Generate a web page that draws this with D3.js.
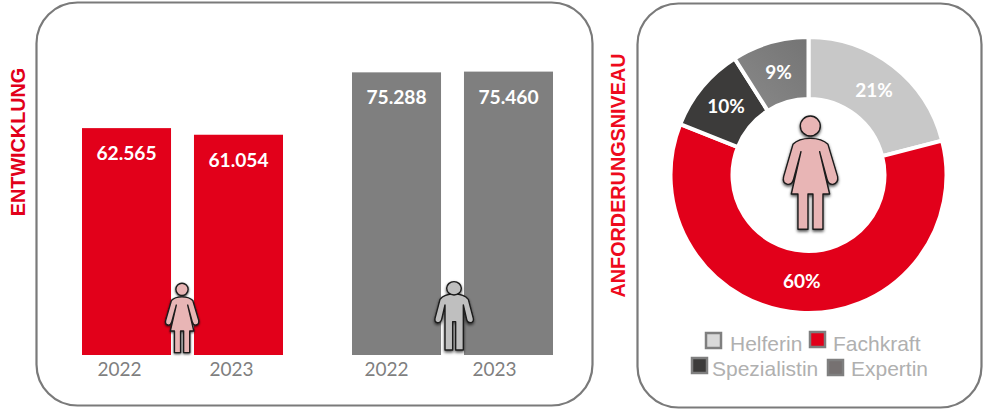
<!DOCTYPE html>
<html>
<head>
<meta charset="utf-8">
<script src="https://cdn.jsdelivr.net/npm/d3@7"></script>
<style>
html, body { margin: 0; padding: 0; background: #fff; }
svg { display: block; }
</style>
</head>
<body>
<div id="chart"></div>
<script>
var years = ['2022', '2023'];
var women_values = [62565, 61054];
var men_values = [75288, 75460];
var levels = ['Helferin', 'Fachkraft', 'Spezialistin', 'Expertin'];
var level_values = [21, 60, 10, 9];

var RED = '#e2001a';
var GREY = '#7f7f7f';
var level_colors = ['#c8c8c8', RED, '#3c3b3a', 'url(#expert_grad)'];
var legend_colors = ['#d9d9d9', RED, '#3c3b3a', '#767171'];

var WOMAN = 'M0 100C25 100 40 105 53 118L82 215Q85 235 68 238Q55 240 50 222L28 140L58 267L38 267L38 373L8 373L8 267L-7 267L-7 373L-37 373L-37 267L-57 267L-28 140L-50 222Q-55 240 -68 238Q-85 235 -80 215L-52 118C-40 105 -25 100 0 100Z';
var MAN = 'M0 72C18 72 33 75 43 88L58 145Q60 157 50 158Q40 158 38 148L28 105L28 240L5 240L5 155L-4 155L-4 240L-27 240L-27 105L-37 148Q-40 158 -50 158Q-59 157 -57 145L-42 88C-32 75 -17 72 0 72Z';

var svg = d3.select('#chart').append('svg')
	.attr('width', 984)
	.attr('height', 410);

var defs = svg.append('defs');
var shadow = defs.append('filter').attr('id', 'shadow')
	.attr('x', '-40%').attr('y', '-30%').attr('width', '180%').attr('height', '170%');
shadow.append('feDropShadow')
	.attr('dx', 0).attr('dy', 5).attr('stdDeviation', 4)
	.attr('flood-color', '#000').attr('flood-opacity', 0.7);

var grad = defs.append('linearGradient').attr('id', 'expert_grad')
	.attr('x1', 0).attr('x2', 1).attr('y1', 1).attr('y2', 0);
grad.append('stop').attr('offset', '0%').attr('stop-color', '#8a8a8a');
grad.append('stop').attr('offset', '100%').attr('stop-color', '#747474');

function panel(x, y, w, h)
{
	svg.append('rect')
		.attr('x', x).attr('y', y)
		.attr('width', w).attr('height', h)
		.attr('rx', 41).attr('ry', 41)
		.attr('fill', '#fff')
		.attr('stroke', '#7a7a7a')
		.attr('stroke-width', 2.2);
}

function side_title(text, x, y, color)
{
	svg.append('text')
		.attr('transform', 'translate(' + x + ',' + y + ') rotate(-90)')
		.attr('text-anchor', 'middle')
		.attr('font-family', '"Liberation Sans", Arial, sans-serif')
		.attr('font-weight', 'bold')
		.attr('font-size', 19.8)
		.attr('fill', color)
		.text(text);
}

// head is drawn apart from the body so both get the same outline
function person(path_d, head, cx, top, scale, fill)
{
	var g = svg.append('g')
		.attr('filter', 'url(#shadow)')
		.attr('transform', 'translate(' + cx + ',' + top + ') scale(' + scale + ')');
	g.append('path')
		.attr('d', path_d)
		.attr('fill', fill)
		.attr('stroke', '#1a1a1a')
		.attr('stroke-width', 1.4 / scale)
		.attr('stroke-linejoin', 'round');
	g.append('ellipse')
		.attr('cx', 0).attr('cy', head.cy)
		.attr('rx', head.rx).attr('ry', head.ry)
		.attr('fill', fill)
		.attr('stroke', '#1a1a1a')
		.attr('stroke-width', 1.4 / scale);
}

panel(36.5, 2.5, 556, 403);
panel(637.5, 3.5, 344, 404);

side_title('ENTWICKLUNG', 24.5, 142, RED);
side_title('ANFORDERUNGSNIVEAU', 624.5, 175.5, '#ee0a1c');

// the bars do not start at zero in the original
var y = d3.scaleLinear()
	.domain([10800, 75460])
	.range([355, 71.6]);

function bar_group(values, x0, color, tick_shift)
{
	var x = d3.scaleBand()
		.domain(years)
		.range([x0, x0 + 201])
		.paddingInner(0.205);

	var g = svg.append('g');
	g.selectAll('rect')
		.data(values)
		.enter()
		.append('rect')
		.attr('x', function(d, i) { return x(years[i]); })
		.attr('y', function(d) { return y(d); })
		.attr('width', x.bandwidth())
		.attr('height', function(d) { return y.range()[0] - y(d); })
		.attr('fill', color);

	g.selectAll('text.value')
		.data(values)
		.enter()
		.append('text')
		.attr('class', 'value')
		.attr('x', function(d, i) { return x(years[i]) + x.bandwidth() / 2; })
		.attr('y', function(d) { return y(d) + 32; })
		.attr('text-anchor', 'middle')
		.attr('font-family', 'Lato, sans-serif')
		.attr('font-weight', 'bold')
		.attr('font-size', 19.2)
		.attr('fill', '#fff')
		.text(function(d) { return d3.format(',')(d).replace(',', '.'); });

	var axis = svg.append('g')
		.attr('transform', 'translate(0,355)')
		.call(d3.axisBottom(x).tickSize(0).tickPadding(8));
	axis.select('.domain').remove();
	axis.selectAll('text')
		.attr('dx', function(d, i) { return tick_shift[i]; })
		.attr('font-family', 'Lato, sans-serif')
		.attr('font-size', 19)
		.attr('fill', '#7f7f7f');
}

bar_group(women_values, 82, RED, [-7, -7]);
bar_group(men_values, 352, GREY, [-10, -14]);

person(WOMAN, {cy: 63, rx: 30, ry: 30}, 182, 276.5, 0.204, '#e8b5b5');
person(MAN, {cy: 55, rx: 22, ry: 20}, 454, 270, 0.3333, '#bfbfbf');

// donut
var pie = d3.pie().sort(null).value(function(d) { return d; });
var arc = d3.arc().innerRadius(76).outerRadius(138);
var label_arc = d3.arc().innerRadius(107).outerRadius(107);

var donut = svg.append('g').attr('transform', 'translate(808.5,175)');
donut.selectAll('path')
	.data(pie(level_values))
	.enter()
	.append('path')
	.attr('d', arc)
	.attr('fill', function(d, i) { return level_colors[i]; })
	.attr('stroke', '#fff')
	.attr('stroke-width', 4);

donut.selectAll('text')
	.data(pie(level_values))
	.enter()
	.append('text')
	.attr('transform', function(d) { return 'translate(' + label_arc.centroid(d) + ')'; })
	.attr('text-anchor', 'middle')
	.attr('dy', '0.35em')
	.attr('font-family', 'Lato, sans-serif')
	.attr('font-weight', 'bold')
	.attr('font-size', 19)
	.attr('fill', '#fff')
	.text(function(d) { return d.data + '%'; });

person(WOMAN, {cy: 63, rx: 30, ry: 30}, 810.3, 105, 0.3333, '#e8b5b5');

// legend
var legend_pos = [
	{sx: 706, sy: 333, tx: 730, ty: 351},
	{sx: 810, sy: 332, tx: 833, ty: 351},
	{sx: 692, sy: 358, tx: 712, ty: 376},
	{sx: 828, sy: 360, tx: 851, ty: 376}
];
var legend = svg.append('g');
legend.selectAll('rect')
	.data(levels)
	.enter()
	.append('rect')
	.attr('x', function(d, i) { return legend_pos[i].sx; })
	.attr('y', function(d, i) { return legend_pos[i].sy; })
	.attr('width', 15)
	.attr('height', 15)
	.attr('fill', function(d, i) { return legend_colors[i]; })
	.attr('stroke', GREY)
	.attr('stroke-width', 2.5);
legend.selectAll('text')
	.data(levels)
	.enter()
	.append('text')
	.attr('x', function(d, i) { return legend_pos[i].tx; })
	.attr('y', function(d, i) { return legend_pos[i].ty; })
	.attr('font-family', '"Liberation Sans", Arial, sans-serif')
	.attr('font-size', 21)
	.attr('fill', '#b0b0b0')
	.text(function(d) { return d; });
</script>
</body>
</html>
